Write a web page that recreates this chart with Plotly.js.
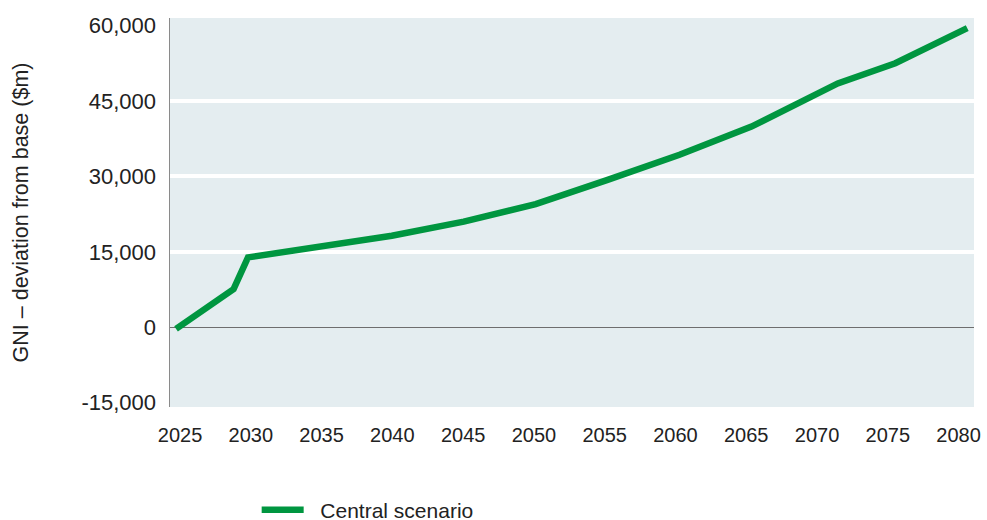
<!DOCTYPE html>
<html>
<head>
<meta charset="utf-8">
<script src="https://cdn.plot.ly/plotly-3.0.1.min.js"></script>
<style>html,body{margin:0;padding:0;background:#fff;}#chart{width:987px;height:520px;}</style>
</head>
<body>
<div id="chart"></div>
<script>
// Data
const years = [2025, 2029, 2030, 2035, 2040, 2045, 2050, 2055, 2060, 2065, 2070, 2071, 2075, 2080];
const gniDeviation = [-300, 7600, 13900, 15900, 18200, 21000, 24500, 29300, 34300, 39900, 47300, 48500, 52500, 59500];
const seriesName = "Central scenario";
const yTickVals = [-15000, 0, 15000, 30000, 45000, 60000];
const yTickText = ["-15,000", "0", "15,000", "30,000", "45,000", "60,000"];
const gridVals = [15000, 30000, 45000];
const xTickVals = [2025, 2030, 2035, 2040, 2045, 2050, 2055, 2060, 2065, 2070, 2075, 2080];

const FONT = "Liberation Sans, Arial, sans-serif";
const yRange = [-15850, 61500];

const traces = [
  {
    x: years, y: gniDeviation, name: "\u00a0\u00a0" + seriesName, type: "scatter", mode: "lines",
    line: {color: "#009640", width: 6.5},
    hoverinfo: "skip"
  },
  {
    x: [], y: [], xaxis: "x2", yaxis: "y2", type: "scatter", mode: "lines",
    showlegend: false, hoverinfo: "skip"
  }
];

const layout = {
  width: 987, height: 520,
  margin: {l: 170, r: 13, t: 18, b: 113, autoexpand: false},
  paper_bgcolor: "#ffffff",
  plot_bgcolor: "#e4edf0",
  font: {family: FONT, size: 20, color: "#222222"},
  showlegend: true,
  legend: {
    orientation: "h",
    xref: "paper", yref: "paper",
    x: 0.1078, y: -0.3175, xanchor: "left", yanchor: "bottom",
    font: {family: FONT, size: 21, color: "#222222"},
    itemwidth: 42,
    bgcolor: "rgba(0,0,0,0)"
  },
  xaxis: {
    range: [2024.58, 2080.47],
    showticklabels: false,
    showgrid: false, zeroline: false, showline: false,
    ticks: "",
    fixedrange: true
  },
  xaxis2: {
    overlaying: "x", anchor: "y2", side: "bottom",
    range: [2024.29, 2081.09],
    tickmode: "array", tickvals: xTickVals,
    showgrid: false, zeroline: false, showline: false,
    ticks: "", ticklabelstandoff: 14, ticklabeloverflow: "allow",
    tickfont: {family: FONT, size: 20, color: "#222222"},
    fixedrange: true
  },
  yaxis: {
    range: yRange,
    tickmode: "array", tickvals: gridVals,
    showticklabels: false,
    showgrid: true, gridcolor: "#ffffff", gridwidth: 4,
    zeroline: true, zerolinecolor: "#6e6e6e", zerolinewidth: 1.5,
    showline: true, linecolor: "#8a8a8a", linewidth: 1.5,
    ticks: "",
    fixedrange: true
  },
  yaxis2: {
    overlaying: "y", side: "left", anchor: "x2",
    range: yRange,
    tickmode: "array", tickvals: yTickVals, ticktext: yTickText,
    showgrid: false, zeroline: false, showline: false,
    ticks: "", ticklabelstandoff: 13,
    tickfont: {family: FONT, size: 22, color: "#222222"},
    title: {text: "GNI \u2013 deviation from base ($m)", font: {family: FONT, size: 21.5, color: "#222222"}, standoff: 46},
    fixedrange: true
  }
};

Plotly.newPlot("chart", traces, layout, {displayModeBar: false, staticPlot: true});
</script>
</body>
</html>
